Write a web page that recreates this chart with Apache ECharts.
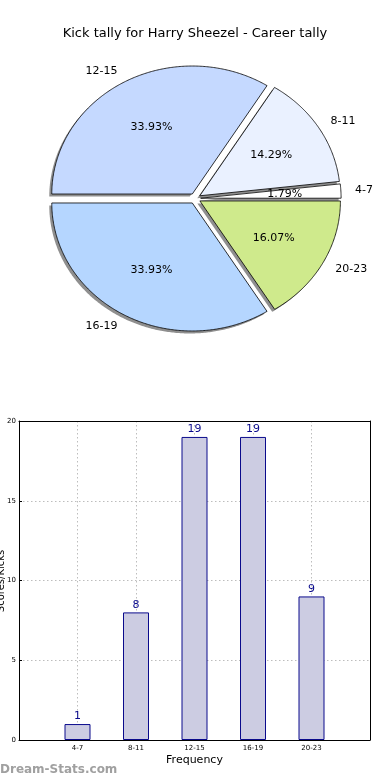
<!DOCTYPE html>
<html>
<head>
<meta charset="utf-8">
<script src="https://cdn.jsdelivr.net/npm/echarts@6/dist/echarts.min.js"></script>
<style>html,body{margin:0;padding:0;background:#fff}#c{width:390px;height:780px}</style>
</head>
<body>
<div id="c"></div>
<script>
const categories = ['4-7', '8-11', '12-15', '16-19', '20-23'];
const kicks = [1, 8, 19, 19, 9];
const sliceColors = ['#ffffff', '#eaf1ff', '#c5d9ff', '#b5d6ff', '#cfea8c'];
const yTicks = [0, 5, 10, 15, 20];
const titleText = 'Kick tally for Harry Sheezel - Career tally';
const yAxisName = 'Scores/Kicks';

const FONT = 'DejaVu Sans';
const total = kicks.reduce((a, b) => a + b, 0);
const CX = 195, CY = 198.5, RX = 140.5, RY = 128, EXPLODE = 0.04;

function renderSlice(params, api) {
  const i = params.dataIndex;
  const v = api.value(0);
  let before = 0;
  for (let k = 0; k < i; k++) before += kicks[k];
  const start = before / total * Math.PI * 2;
  const end = start + v / total * Math.PI * 2;
  const mid = (start + end) / 2;
  const cx = CX + EXPLODE * RX * Math.cos(mid);
  const cy = CY - EXPLODE * RY * Math.sin(mid);
  const pts = [[cx, cy]];
  const n = Math.max(3, Math.ceil((end - start) / 0.01));
  for (let k = 0; k <= n; k++) {
    const a = start + (end - start) * k / n;
    pts.push([cx + RX * Math.cos(a), cy - RY * Math.sin(a)]);
  }
  const shadowPts = pts.map(p => [p[0] - 2.5, p[1] + 2.5]);
  const pct = (v / total * 100).toFixed(2) + '%';
  const lx = cx + 1.1 * RX * Math.cos(mid);
  const ly = cy - 1.1 * RY * Math.sin(mid);
  return {
    type: 'group',
    children: [
      { type: 'polygon', z2: 1, shape: { points: shadowPts }, style: { fill: '#8f8f8f' } },
      { type: 'polygon', z2: 10, shape: { points: pts }, style: { fill: sliceColors[i], stroke: '#000', lineWidth: 0.8 } },
      { type: 'text', z2: 20, style: { x: cx + 0.6 * RX * Math.cos(mid), y: cy - 0.6 * RY * Math.sin(mid), text: pct, fill: '#000', font: '11px "' + FONT + '"', align: 'center', verticalAlign: 'middle' } },
      { type: 'text', z2: 20, style: { x: lx, y: ly, text: categories[i], fill: '#000', font: '11px "' + FONT + '"', align: Math.cos(mid) >= 0 ? 'left' : 'right', verticalAlign: 'middle' } }
    ]
  };
}

const chart = echarts.init(document.getElementById('c'), null, { renderer: 'canvas' });
chart.setOption({
  animation: false,
  backgroundColor: '#fff',
  textStyle: { fontFamily: FONT },
  title: {
    text: titleText, left: 'center', top: 22,
    textStyle: { fontFamily: FONT, fontSize: 13, fontWeight: 'normal', color: '#000' }
  },
  graphic: [{
    type: 'text', left: 0, top: 764,
    style: { text: 'Dream-Stats.com', fill: '#a0a0a0', font: 'bold 12px "' + FONT + '"' }
  }, {
    type: 'text', x: 1, y: 581, rotation: Math.PI / 2,
    style: { text: yAxisName, fill: '#000', font: '10px "' + FONT + '"', align: 'center', verticalAlign: 'middle' }
  }],
  grid: { left: 19, top: 421, width: 351, height: 319, containLabel: false, outerBoundsMode: 'none' },
  xAxis: [{
    type: 'value', min: 0, max: 6, interval: 1,
    name: 'Frequency', nameLocation: 'middle', nameGap: 15, nameMoveOverlap: false,
    nameTextStyle: { fontFamily: FONT, fontSize: 11, color: '#000' },
    axisLine: { show: true, lineStyle: { color: '#000', width: 1 } },
    axisTick: { show: true, inside: true, length: 3, lineStyle: { color: '#000' } },
    axisLabel: { fontFamily: FONT, fontSize: 7, color: '#000', margin: 5,
      formatter: v => categories[v - 1] || '' },
    splitLine: { show: true, lineStyle: { type: [1.5, 2.5], color: '#bdbdbd', width: 1 } }
  }, {
    type: 'value', min: 0, max: 6, position: 'top', z: 5,
    axisLine: { show: true, onZero: false, lineStyle: { color: '#000', width: 1 } },
    axisTick: { show: false }, axisLabel: { show: false }, splitLine: { show: false }
  }],
  yAxis: [{
    type: 'value', min: yTicks[0], max: yTicks[yTicks.length - 1], interval: 5,
    axisLine: { show: true, lineStyle: { color: '#000', width: 1 } },
    axisTick: { show: true, inside: true, length: 3, lineStyle: { color: '#000' } },
    axisLabel: { fontFamily: FONT, fontSize: 7, color: '#000', margin: 3 },
    splitLine: { show: true, lineStyle: { type: [1.5, 2.5], color: '#bdbdbd', width: 1 } }
  }, {
    type: 'value', min: 0, max: 20, position: 'right', z: 5,
    axisLine: { show: true, onZero: false, lineStyle: { color: '#000', width: 1 } },
    axisTick: { show: false }, axisLabel: { show: false }, splitLine: { show: false }
  }],
  series: [{
    type: 'custom',
    coordinateSystem: 'none',
    renderItem: renderSlice,
    data: kicks.map((v, i) => [v, i])
  }, {
    type: 'bar',
    xAxisIndex: 0, yAxisIndex: 0,
    barWidth: 26,
    data: kicks.map((v, i) => [i + 1, v]),
    itemStyle: { color: '#ccccE2', borderColor: '#0a0a8c', borderWidth: 1 },
    label: { show: true, position: 'top', distance: 2, color: '#0a0a8c', fontFamily: FONT, fontSize: 11 }
  }]
});
</script>
</body>
</html>
